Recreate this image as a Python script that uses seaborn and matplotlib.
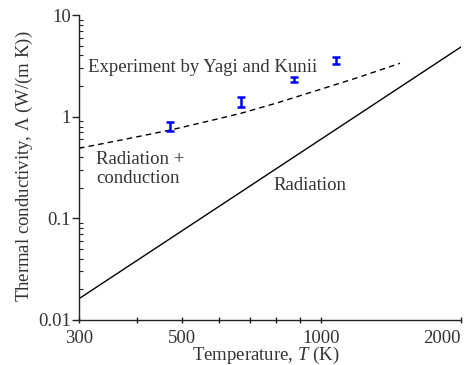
import matplotlib
matplotlib.use("Agg")
import matplotlib.pyplot as plt
import seaborn as sns
import pandas as pd
import numpy as np
from matplotlib.ticker import FixedLocator, NullFormatter, LogLocator

# Data
rad_T = [300, 2000]
rad_k = [0.0162, 4.85]

rc_T = [300, 374, 473, 580, 671, 800, 1000, 1200, 1477]
rc_k = [0.489, 0.595, 0.74, 0.92, 1.08, 1.36, 1.87, 2.43, 3.35]

exp_T = [472, 671, 873, 1074]
exp_k = [0.79, 1.39, 2.32, 3.59]
exp_lo = [0.72, 1.24, 2.21, 3.30]
exp_hi = [0.89, 1.55, 2.44, 3.89]

xticks_major = [300, 500, 1000, 2000]
xticks_minor = [400, 600, 700, 800, 900]
yticks_major = [0.01, 0.1, 1, 10]
ytick_labels = ["0.01", "0.1", "1", "10"]

sns.set_style("ticks")
plt.rcParams["font.family"] = ["Liberation Serif", "DejaVu Serif"]
plt.rcParams["mathtext.fontset"] = "custom"
plt.rcParams["mathtext.rm"] = "Liberation Serif"
plt.rcParams["mathtext.it"] = "Liberation Serif:italic"

txt = "#333333"
FS = 13.5
fig = plt.figure(figsize=(4.67, 3.65), dpi=100)
ax = fig.add_axes([79/467, 1-320/365, (461-79)/467, (320-15)/365])

rad_df = pd.DataFrame({"T": rad_T, "k": rad_k})
rc_df = pd.DataFrame({"T": rc_T, "k": rc_k})
sns.lineplot(data=rad_df, x="T", y="k", ax=ax, color="black", linewidth=1.0)
sns.lineplot(data=rc_df, x="T", y="k", ax=ax, color="black", linewidth=1.0,
             linestyle=(0, (4, 3)))

yerr = np.array([np.array(exp_k) - np.array(exp_lo), np.array(exp_hi) - np.array(exp_k)])
ax.errorbar(exp_T, exp_k, yerr=yerr, fmt="none", ecolor="#0000ff",
            elinewidth=1.8, capsize=3, capthick=1.8)

ax.set_xscale("log")
ax.set_yscale("log")
ax.set_xlim(300, 2000)
ax.set_ylim(0.01, 10)

ax.xaxis.set_major_locator(FixedLocator(xticks_major))
ax.xaxis.set_minor_locator(FixedLocator(xticks_minor))
ax.xaxis.set_minor_formatter(NullFormatter())
ax.set_xticklabels([str(v) for v in xticks_major])
ax.get_xticklabels()[-1].set_horizontalalignment("right")
ax.yaxis.set_major_locator(FixedLocator(yticks_major))
ax.set_yticklabels(ytick_labels)
ax.yaxis.set_minor_locator(LogLocator(base=10, subs=np.arange(2, 10)))
ax.yaxis.set_minor_formatter(NullFormatter())

for s in ["top", "right"]:
    ax.spines[s].set_visible(False)
for s in ["left", "bottom"]:
    ax.spines[s].set_color("#222222")
    ax.spines[s].set_linewidth(1.0)

ax.tick_params(axis="y", which="major", direction="out", length=5, width=1,
               labelsize=FS, colors="#222222", labelcolor=txt, pad=1)
ax.tick_params(axis="y", which="minor", direction="in", length=3, width=0.8, colors="#222222")
ax.tick_params(axis="x", which="both", direction="inout", length=4, width=1,
               labelsize=FS, colors="#222222", labelcolor=txt, pad=5)

ax.set_xlabel(r"Temperature, $\mathit{T}$ (K)", fontsize=FS, color=txt)
ax.xaxis.set_label_coords((266-79)/382, (320-345)/305)
ax.set_ylabel(r"Thermal conductivity, $\mathit{\Lambda}$ (W/(m K))", fontsize=FS, color=txt)
ax.yaxis.set_label_coords((35-79)/382, (320-166)/305)

ax.text(313.6, 2.77, "Experiment by Yagi and Kunii", fontsize=FS, color=txt,
        ha="left", va="baseline")
ax.text(327, 0.343, "Radiation +", fontsize=FS, color=txt, ha="left", va="baseline")
ax.text(327, 0.221, "conduction", fontsize=FS, color=txt, ha="left", va="baseline")
ax.text(787, 0.190, "Radiation", fontsize=FS, color=txt, ha="left", va="baseline")

fig.savefig("out.png", dpi=100)
